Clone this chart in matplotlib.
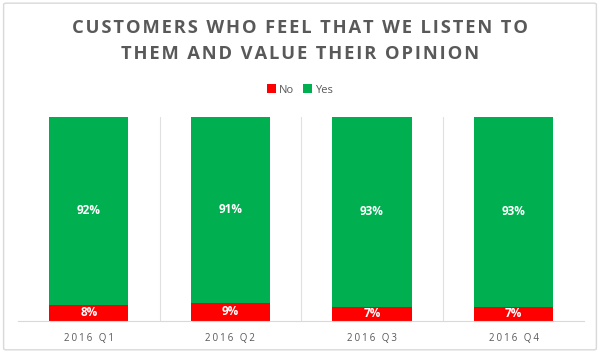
import matplotlib.pyplot as plt
from matplotlib.patches import FancyBboxPatch
import numpy as np

# data
quarters = ["2016 Q1", "2016 Q2", "2016 Q3", "2016 Q4"]
no_pct = [8, 9, 7, 7]
yes_pct = [92, 91, 93, 93]

red = "#FF0000"
green = "#00B050"
grey_txt = "#595959"
HS = "\u200a"


def spaced(s, n=1):
    # fake letter spacing with hair spaces
    return (HS * n).join(list(s))


plt.rcParams["font.family"] = ["Open Sans", "DejaVu Sans"]

fig = plt.figure(figsize=(6, 3.53), dpi=100)

# outer chart border
fig.patches.append(FancyBboxPatch((0.006, 0.009), 0.988, 0.982, boxstyle="round,pad=0,rounding_size=0.004",
                                  transform=fig.transFigure, fill=False, edgecolor="#D9D9D9", linewidth=1.0))

ax = fig.add_axes([0.03, 0.091, 0.944, 0.578])
x = np.arange(len(quarters))
w = 0.56
ax.bar(x, no_pct, w, color=red, label="No", zorder=2)
ax.bar(x, yes_pct, w, bottom=no_pct, color=green, label="Yes", zorder=2)

for i in range(len(quarters)):
    ax.text(x[i], no_pct[i] / 2, f"{no_pct[i]}%", ha="center", va="center",
            color="white", fontsize=8.5, fontweight="bold")
    ax.text(x[i], no_pct[i] + yes_pct[i] / 2, f"{yes_pct[i]}%", ha="center", va="center",
            color="white", fontsize=8.5, fontweight="bold")

ax.set_xlim(-0.5, len(quarters) - 0.5)
ax.set_ylim(0, 100)
for b in np.arange(0.5, len(quarters) - 0.5, 1):
    ax.axvline(b, color="#E0E0E0", linewidth=0.8, zorder=1)
for s in ["top", "right", "left"]:
    ax.spines[s].set_visible(False)
ax.spines["bottom"].set_color("#D9D9D9")
ax.set_yticks([])
ax.set_xticks(x)
ax.set_xticklabels([spaced(q, 2) for q in quarters], fontsize=7, color=grey_txt)
ax.tick_params(axis="x", length=0, pad=9)

fig.text(0.5, 0.921, spaced("CUSTOMERS WHO FEEL THAT WE LISTEN TO", 1), ha="center", va="center",
         fontsize=13.2, fontweight="bold", color=grey_txt)
fig.text(0.5, 0.847, spaced("THEM AND VALUE THEIR OPINION", 1), ha="center", va="center",
         fontsize=13.2, fontweight="bold", color=grey_txt)

leg = fig.legend(loc="center", bbox_to_anchor=(0.5, 0.745), ncol=2, frameon=False, fontsize=8,
                 handlelength=0.8, handleheight=0.8, handletextpad=0.3, columnspacing=0.8)
for t in leg.get_texts():
    t.set_color(grey_txt)

fig.savefig("out.png", dpi=100)
